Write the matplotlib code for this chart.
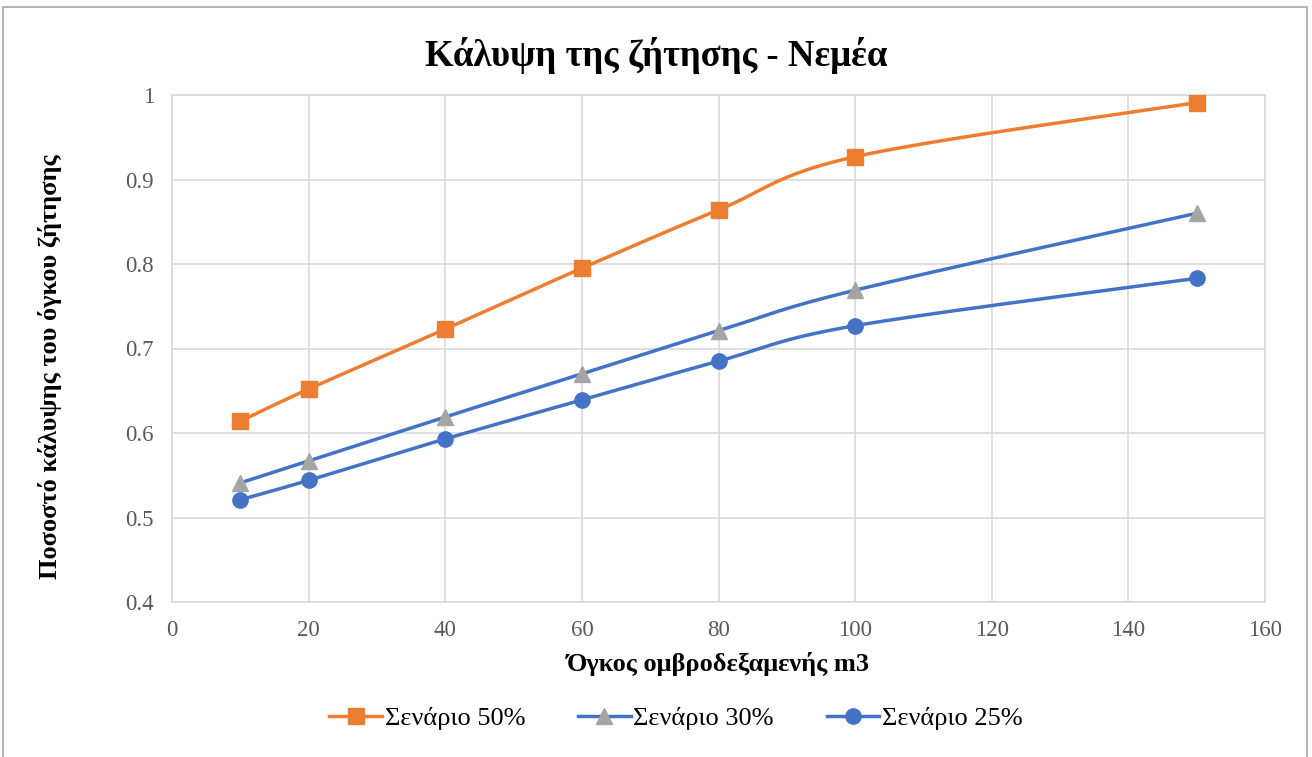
import numpy as np
import matplotlib
matplotlib.use("Agg")
import matplotlib.pyplot as plt
from matplotlib.patches import Rectangle

x_vals = [10, 20, 40, 60, 80, 100, 150]
s50 = [0.614, 0.652, 0.723, 0.795, 0.864, 0.927, 0.991]
s30 = [0.541, 0.567, 0.619, 0.670, 0.721, 0.769, 0.860]
s25 = [0.521, 0.544, 0.593, 0.639, 0.685, 0.727, 0.783]
labels = ["Σενάριο 50%", "Σενάριο 30%", "Σενάριο 25%"]
title = "Κάλυψη της ζήτησης - Νεμέα"
xlabel = "Όγκος ομβροδεξαμενής m3"
ylabel = "Ποσοστό κάλυψης του όγκου ζήτησης"

plt.rcParams['font.family'] = ['Liberation Serif', 'DejaVu Serif']


def smooth(xs, ys, n=40, t=1/6):
    # Excel-like smoothing: cubic Bezier segments with Catmull-Rom control points
    xs = np.asarray(xs, float); ys = np.asarray(ys, float)
    px, py = [], []
    m = len(xs)
    for i in range(m - 1):
        x0, y0 = (xs[i-1], ys[i-1]) if i > 0 else (xs[i], ys[i])
        x1, y1 = xs[i], ys[i]
        x2, y2 = xs[i+1], ys[i+1]
        x3, y3 = (xs[i+2], ys[i+2]) if i + 2 < m else (xs[i+1], ys[i+1])
        c1x, c1y = x1 + (x2 - x0) * t, y1 + (y2 - y0) * t
        c2x, c2y = x2 - (x3 - x1) * t, y2 - (y3 - y1) * t
        u = np.linspace(0, 1, n)
        bx = (1-u)**3*x1 + 3*(1-u)**2*u*c1x + 3*(1-u)*u**2*c2x + u**3*x2
        by = (1-u)**3*y1 + 3*(1-u)**2*u*c1y + 3*(1-u)*u**2*c2y + u**3*y2
        px.extend(bx); py.extend(by)
    return np.array(px), np.array(py)


fig = plt.figure(figsize=(13.12, 7.57), dpi=100)
ax = fig.add_axes([172/1312, 1 - 602/757, (1265-172)/1312, (602-95)/757])

series = [
    (s50, '#ED7D31', '#ED7D31', 's', 12),
    (s30, '#4472C4', '#A5A5A5', '^', 12),
    (s25, '#4472C4', '#4472C4', 'o', 11),
]
handles = []
for (ys, lc, mc, mk, ms), lab in zip(series, labels):
    sx, sy = smooth(x_vals, ys)
    ax.plot(sx, sy, color=lc, lw=2.5, zorder=3, solid_capstyle='round')
    ax.plot(x_vals, ys, linestyle='none', marker=mk, markersize=ms,
            markerfacecolor=mc, markeredgecolor=mc, zorder=4)
    h, = ax.plot([], [], color=lc, lw=2.5, marker=mk, markersize=ms,
                 markerfacecolor=mc, markeredgecolor=mc)
    handles.append(h)

ax.set_xlim(0, 160)
ax.set_ylim(0.4, 1.0)
ax.set_xticks(np.arange(0, 161, 20))
ax.set_yticks([0.4, 0.5, 0.6, 0.7, 0.8, 0.9, 1.0])
ax.set_yticklabels(['0.4', '0.5', '0.6', '0.7', '0.8', '0.9', '1'])
ax.grid(True, color='#D9D9D9', lw=1.2, zorder=0)
for sp in ax.spines.values():
    sp.set_color('#D9D9D9')
    sp.set_linewidth(1.2)
ax.tick_params(length=0, labelsize=16.5, colors='#595959', pad=13)

fig.text(0.5, 1 - 55/757, title, ha='center', va='center', fontsize=26.5, fontweight='bold')
fig.text((172+1265)/2/1312, 1 - 664/757, xlabel, ha='center', va='center', fontsize=19, fontweight='bold')
fig.text(50/1312, 1 - 367/757, ylabel, ha='center', va='center', rotation=90, fontsize=19, fontweight='bold')

fig.legend(handles=handles, labels=labels, loc='center', bbox_to_anchor=(676/1312, 1 - 718/757),
           ncol=3, frameon=False, fontsize=19, handlelength=2.0, columnspacing=2.0, handletextpad=0.1)

fig.patches.append(Rectangle((3/1312, -0.1), (1307-3)/1312, 1.1 - 7/757, transform=fig.transFigure,
                             fill=False, edgecolor='#A6A6A6', lw=1.2))

fig.savefig('out.png', dpi=100)
